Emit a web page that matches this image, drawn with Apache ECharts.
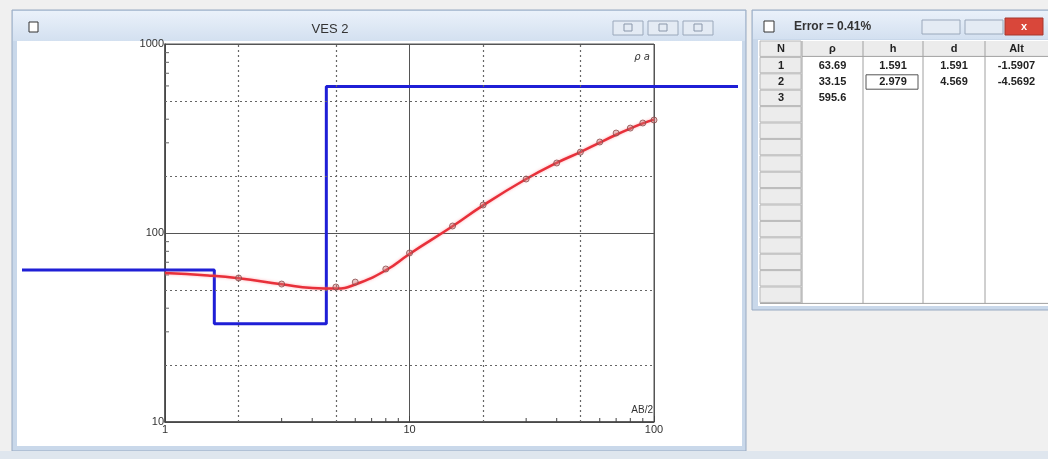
<!DOCTYPE html>
<html><head><meta charset="utf-8">
<script src="https://cdn.jsdelivr.net/npm/echarts@6/dist/echarts.min.js"></script>
<style>html,body{margin:0;padding:0;background:#f0f0f0;}#c{width:1048px;height:459px;}</style>
</head><body><div id="c"></div>
<script>
// ---- data ----
var obsAB2 = [2, 3, 5, 6, 8, 10, 15, 20, 30, 40, 50, 60, 70, 80, 90, 100];
var obsRho = [57.8, 53.7, 51.8, 55.0, 64.5, 78.4, 108.9, 140.6, 193, 234.6, 268, 303, 338, 359, 382, 396];
var calcAB2 = [1, 1.5, 2, 3, 4, 5, 6, 8, 10, 15, 20, 30, 40, 50, 60, 70, 80, 90, 100];
var calcRho = [61.4, 59.6, 57.6, 53.6, 51.2, 50.8, 53.4, 63.5, 77.5, 108.5, 140, 193, 235, 268, 301, 331, 357, 380, 398];
var modelRho = [63.69, 33.15, 595.6];
var modelDepth = [1.591, 4.569];
var xTickLabels = ['1', '10', '100'];
var yTickLabels = ['10', '100', '1000'];
var dashX = [2, 5, 20, 50];
var dashY = [20, 50, 200, 500];
var minorX = [3, 4, 6, 7, 8, 9, 30, 40, 60, 70, 80, 90];
var minorY = [30, 40, 60, 70, 80, 90, 300, 400, 600, 700, 800, 900];
var tableHead = ['N', 'ρ', 'h', 'd', 'Alt'];
var colN = ['1', '2', '3'];
var colRho = ['63.69', '33.15', '595.6'];
var colH = ['1.591', '2.979', ''];
var colD = ['1.591', '4.569', ''];
var colAlt = ['-1.5907', '-4.5692', ''];
var errorText = 'Error = 0.41%';
var chartTitle = 'VES 2';

var GL = 165, GT = 44, GW = 489, GH = 378;
// wide (hidden) axis for the model line, which runs past the plot frame
var WL = 22, WR = 738;
var decadePx = GW / 2;
var wideMin = Math.pow(10, (WL - GL) / decadePx);
var wideMax = Math.pow(10, (WR - GL) / decadePx);

// model step line
var model = [[wideMin, modelRho[0]]];
for (var i = 0; i < modelDepth.length; i++) {
  model.push([modelDepth[i], modelRho[i]]);
  model.push([modelDepth[i], modelRho[i + 1]]);
}
model.push([wideMax, modelRho[modelRho.length - 1]]);

// ---- window chrome graphics ----
var g = [];
var titleGrad = function(){ return new echarts.graphic.LinearGradient(0,0,0,1,[{offset:0,color:'#eaf1fa'},{offset:1,color:'#d3e0f0'}]); };
// left window
g.push({type:'rect', shape:{x:12,y:10,width:734,height:441}, style:{fill:'#c9d8ea', stroke:'#98aac2'}, z:-10});
g.push({type:'rect', shape:{x:13,y:11,width:732,height:30}, style:{fill:titleGrad()}, z:-9});
g.push({type:'rect', shape:{x:17,y:41,width:725,height:405}, style:{fill:'#ffffff'}, z:-8});
g.push({type:'rect', shape:{x:29,y:22,width:9,height:10}, style:{fill:'#fff', stroke:'#333', lineWidth:1}, z:5});
g.push({type:'text', x:330, y:29, style:{text:chartTitle, font:'13px "Liberation Sans", Arial', fill:'#333', textAlign:'center', textVerticalAlign:'middle'}, z:5});
[613, 648, 683].forEach(function(x, k){
  g.push({type:'rect', shape:{x:x,y:21,width:30,height:14}, style:{fill:'#e4ebf4', stroke:'#9aa8bb'}, z:5});
  g.push({type:'rect', shape:{x:x+11,y:24,width:8,height:7}, style:{fill:'none', stroke:'#8a97aa'}, z:6});
});
// right window
g.push({type:'rect', shape:{x:752,y:10,width:300,height:300}, style:{fill:'#c9d8ea', stroke:'#98aac2'}, z:-10});
g.push({type:'rect', shape:{x:753,y:11,width:298,height:28}, style:{fill:titleGrad()}, z:-9});
g.push({type:'rect', shape:{x:758,y:40,width:292,height:266}, style:{fill:'#ffffff'}, z:-8});
g.push({type:'rect', shape:{x:764,y:21,width:10,height:11}, style:{fill:'#fff', stroke:'#333'}, z:5});
g.push({type:'text', x:794, y:27, style:{text:errorText, font:'bold 12px "Liberation Sans", Arial', fill:'#333', textVerticalAlign:'middle'}, z:5});
g.push({type:'rect', shape:{x:922,y:20,width:38,height:14}, style:{fill:'#e4ebf4', stroke:'#9aa8bb'}, z:5});
g.push({type:'rect', shape:{x:965,y:20,width:38,height:14}, style:{fill:'#e4ebf4', stroke:'#9aa8bb'}, z:5});
g.push({type:'rect', shape:{x:1005,y:18,width:38,height:17}, style:{fill:'#d9473a', stroke:'#a5382e'}, z:5});
g.push({type:'text', x:1024, y:27, style:{text:'x', font:'bold 11px "Liberation Sans"', fill:'#fff', textAlign:'center', textVerticalAlign:'middle'}, z:6});
// table
var colX = [760, 802, 863, 923, 985, 1048];
var rowTop = 41, rowH = 16.4, nRows = 16;
for (var r = 0; r < nRows; r++) {
  var y0 = rowTop + r * rowH;
  g.push({type:'rect', shape:{x:760,y:y0,width:41,height:rowH-1}, style:{fill:'#ececec', stroke:'#b8b8b8'}, z:1});
}
g.push({type:'rect', shape:{x:802,y:rowTop,width:246,height:rowH-1}, style:{fill:'#ececec'}, z:1});
for (var c = 1; c < colX.length - 1; c++) {
  g.push({type:'line', shape:{x1:colX[c],y1:rowTop,x2:colX[c],y2:rowTop+nRows*rowH}, style:{stroke:'#a0a0a0', lineWidth:1}, z:2});
}
g.push({type:'line', shape:{x1:802,y1:rowTop+rowH-1,x2:1048,y2:rowTop+rowH-1}, style:{stroke:'#a0a0a0'}, z:2});
g.push({type:'line', shape:{x1:760,y1:rowTop+nRows*rowH,x2:1048,y2:rowTop+nRows*rowH}, style:{stroke:'#a0a0a0'}, z:2});
g.push({type:'rect', shape:{x:866,y:rowTop+2*rowH+1,width:52,height:rowH-2}, style:{fill:'none', stroke:'#555', lineWidth:1}, z:3});
function cellText(txt, c, r) {
  g.push({type:'text', x:(colX[c]+colX[c+1])/2, y:rowTop + r*rowH + rowH/2, style:{text:txt, font:'bold 11px "Liberation Sans", Arial', fill:'#222', textAlign:'center', textVerticalAlign:'middle'}, z:4});
}
tableHead.forEach(function(t, c){ cellText(t, c, 0); });
colN.forEach(function(t, r){ cellText(t, 0, r+1); });
colRho.forEach(function(t, r){ cellText(t, 1, r+1); });
colH.forEach(function(t, r){ cellText(t, 2, r+1); });
colD.forEach(function(t, r){ cellText(t, 3, r+1); });
colAlt.forEach(function(t, r){ cellText(t, 4, r+1); });
// axis captions
g.push({type:'text', x:GL+GW-4, y:GT+13, style:{text:'ρ a', font:'italic 10px "DejaVu Sans"', fill:'#333', textAlign:'right', textVerticalAlign:'middle'}, z:5});
g.push({type:'text', x:GL+GW-1, y:GT+GH-12, style:{text:'AB/2', font:'10px "Liberation Sans", Arial', fill:'#333', textAlign:'right', textVerticalAlign:'middle'}, z:5});
// bottom strip
g.push({type:'rect', shape:{x:0,y:451,width:1048,height:8}, style:{fill:'#dfe6ee'}, z:-10});

var chart = echarts.init(document.getElementById('c'));
chart.setOption({
  animation: false,
  backgroundColor: '#f0f0f0',
  graphic: g,
  grid: [
    {left: GL, top: GT, width: GW, height: GH, show: true, borderColor: '#555', borderWidth: 1, backgroundColor: 'transparent'},
    {left: WL, top: GT, width: WR - WL, height: GH, show: false}
  ],
  xAxis: [
    {type: 'log', logBase: 10, min: 1, max: 100, gridIndex: 0,
      axisLine: {show: true, onZero: false, lineStyle: {color: '#444', width: 1.5}},
      axisTick: {show: true, inside: true, length: 6, lineStyle: {color: '#444'}},
      axisLabel: {color: '#333', fontSize: 11, fontFamily: 'Liberation Sans', margin: 2,
        formatter: function(v){ var s = String(Math.round(v)); return xTickLabels.indexOf(s) >= 0 ? s : ''; }},
      splitLine: {show: true, lineStyle: {color: '#555', width: 1}}},
    {type: 'log', logBase: 10, min: wideMin, max: wideMax, gridIndex: 1, show: false}
  ],
  yAxis: [
    {type: 'log', logBase: 10, min: 10, max: 1000, gridIndex: 0,
      axisLine: {show: true, onZero: false, lineStyle: {color: '#444', width: 1.5}},
      axisTick: {show: false},
      axisLabel: {color: '#333', fontSize: 11, fontFamily: 'Liberation Sans', margin: 1,
        formatter: function(v){ var s = String(Math.round(v)); return yTickLabels.indexOf(s) >= 0 ? s : ''; }},
      splitLine: {show: true, lineStyle: {color: '#555', width: 1}}},
    {type: 'log', logBase: 10, min: 10, max: 1000, gridIndex: 1, show: false}
  ],
  series: [
    {type: 'line', data: [], markLine: {silent: true, symbol: 'none', label: {show: false},
      lineStyle: {color: '#666', type: [2, 3], width: 1.2},
      data: dashX.map(function(v){ return {xAxis: v}; }).concat(dashY.map(function(v){ return {yAxis: v}; }))}},
    {type: 'custom', silent: true, data: minorX.map(function(v){ return [v]; }), encode: {x: 0},
      renderItem: function(params, api){ var p = api.coord([api.value(0), 10]);
        return {type: 'line', shape: {x1: p[0], y1: p[1], x2: p[0], y2: p[1] - 4}, style: {stroke: '#444', lineWidth: 1}}; }},
    {type: 'custom', silent: true, data: minorY.map(function(v){ return [v]; }), encode: {y: 0},
      renderItem: function(params, api){ var p = api.coord([1, api.value(0)]);
        return {type: 'line', shape: {x1: p[0], y1: p[1], x2: p[0] + 4, y2: p[1]}, style: {stroke: '#666', lineWidth: 1}}; }},
    {type: 'line', xAxisIndex: 1, yAxisIndex: 1, data: model, symbol: 'none', lineStyle: {color: '#1f1fd6', width: 3}, z: 3},
    {type: 'line', data: calcAB2.map(function(x, i){ return [x, calcRho[i]]; }), smooth: true, symbol: 'none',
      lineStyle: {color: '#e8303a', width: 2.5, shadowColor: 'rgba(255,120,130,0.6)', shadowBlur: 3}, z: 4},
    {type: 'scatter', data: obsAB2.map(function(x, i){ return [x, obsRho[i]]; }), symbol: 'circle', symbolSize: 6,
      itemStyle: {color: 'rgba(200,120,120,0.5)', borderColor: '#8a4a4a', borderWidth: 1}, z: 5}
  ]
});
</script></body></html>
